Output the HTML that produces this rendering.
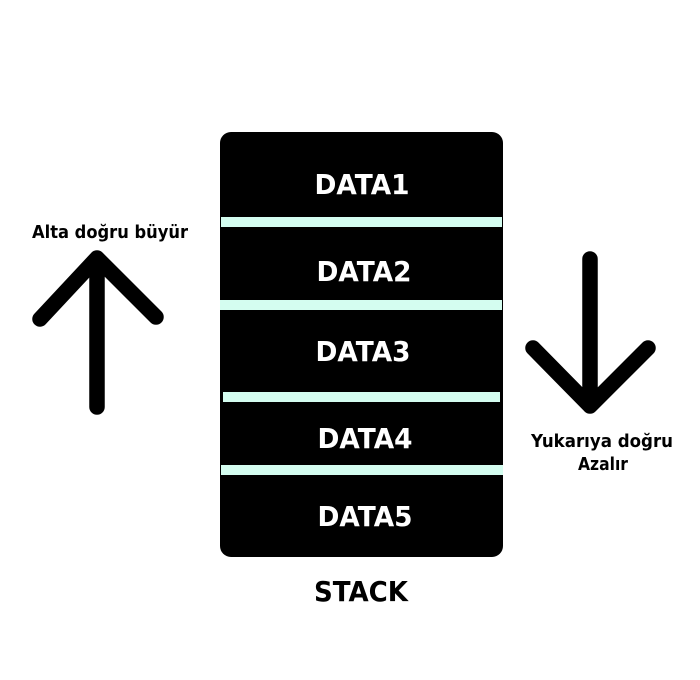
<!DOCTYPE html>
<html><head><meta charset="utf-8"><style>
html,body{margin:0;padding:0;background:#fff;}
svg{display:block}
text{font-family:"DejaVu Sans","Liberation Sans",sans-serif;font-weight:bold;}
</style></head><body>
<svg width="700" height="680" viewBox="0 0 700 680" xmlns="http://www.w3.org/2000/svg">
<rect x="220" y="132" width="283" height="425" rx="11" fill="#000"/>
<rect x="221" y="217" width="281" height="10" fill="#d4fdf0"/>
<rect x="220" y="300" width="282" height="10" fill="#d4fdf0"/>
<rect x="223" y="392" width="277" height="10" fill="#d4fdf0"/>
<rect x="221" y="465" width="282" height="10" fill="#d4fdf0"/>
<g fill="#fff" font-size="28" text-anchor="middle">
<text x="362" y="194" textLength="95" lengthAdjust="spacingAndGlyphs">DATA1</text>
<text x="364" y="281" textLength="95" lengthAdjust="spacingAndGlyphs">DATA2</text>
<text x="363" y="361" textLength="95" lengthAdjust="spacingAndGlyphs">DATA3</text>
<text x="365" y="448" textLength="95" lengthAdjust="spacingAndGlyphs">DATA4</text>
<text x="365" y="526" textLength="95" lengthAdjust="spacingAndGlyphs">DATA5</text>
</g>
<text x="361" y="601" font-size="28" text-anchor="middle" textLength="94" lengthAdjust="spacingAndGlyphs">STACK</text>
<g stroke="#000" stroke-width="15.5" stroke-linecap="round" stroke-linejoin="round" fill="none">
<path d="M97 407 V258 M40 319 L97 258 L156 317"/>
<path d="M590 259 V406 M533 348 L590 406 L648 348"/>
</g>
<text x="110" y="238" font-size="18" text-anchor="middle" textLength="156" lengthAdjust="spacingAndGlyphs">Alta doğru büyür</text>
<text x="602" y="447" font-size="18" text-anchor="middle" textLength="142" lengthAdjust="spacingAndGlyphs">Yukarıya doğru</text>
<text x="603" y="470" font-size="18" text-anchor="middle" textLength="50" lengthAdjust="spacingAndGlyphs">Azalır</text>
</svg>
</body></html>
